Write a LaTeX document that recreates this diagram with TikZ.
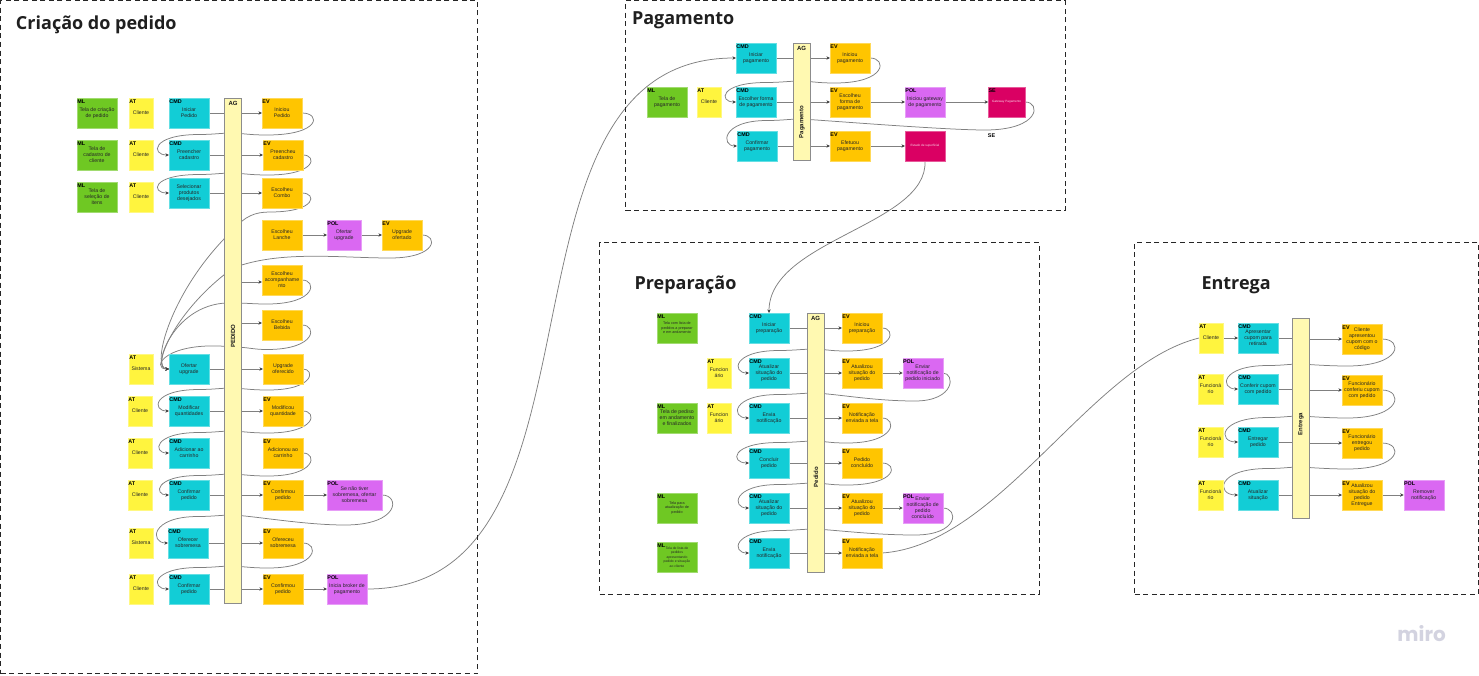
\documentclass[tikz,border=0pt]{standalone}
\usepackage{fontspec}
\setmainfont{Liberation Sans}
\newfontfamily\titlefont{Open Sans}
\newfontfamily\logofont{Poppins}
\usetikzlibrary{arrows.meta,calc,backgrounds}
\definecolor{mlc}{HTML}{6FC823}
\definecolor{atc}{HTML}{FFF43E}
\definecolor{cmc}{HTML}{12CDD6}
\definecolor{evc}{HTML}{FFC500}
\definecolor{plc}{HTML}{DA68F2}
\definecolor{sec}{HTML}{DA0063}
\definecolor{agc}{HTML}{FFF9B1}
\definecolor{lnc}{HTML}{808080}
\definecolor{tipc}{HTML}{404040}
\definecolor{logoc}{HTML}{D3D3E0}
\tikzset{
  note/.style={inner sep=0pt,outer sep=0pt,minimum height=30pt,align=center,
    text=black!85,font=\fontsize{5.2}{6}\selectfont},
  mlbox/.style={note,fill=mlc,draw=mlc!65!white,line width=.4pt},
  atbox/.style={note,fill=atc,draw=atc!65!white,line width=.4pt},
  cmdbox/.style={note,fill=cmc,draw=cmc!65!white,line width=.4pt},
  evbox/.style={note,fill=evc,draw=evc!65!white,line width=.4pt},
  polbox/.style={note,fill=plc,draw=plc!65!white,line width=.4pt},
  sebox/.style={note,fill=sec,draw=sec!65!white,line width=.4pt,text=white!85!sec,font=\fontsize{3.1}{4}\selectfont},
  tinya/.style={font=\fontsize{3.7}{4.4}\selectfont},
  tinyb/.style={font=\fontsize{3.4}{4.4}\selectfont},
  tagst/.style={anchor=north west,inner sep=.4pt,outer sep=0pt,yshift=-.9pt,text=black,font=\fontsize{5.4}{6}\selectfont\bfseries},
  agbar/.style={inner sep=0pt,outer sep=0pt,fill=agc,draw=black!45,line width=.7pt},
  agtext/.style={inner sep=0pt,outer sep=0pt,font=\fontsize{6}{7}\selectfont\bfseries,text=black!90},
  frm/.style={inner sep=0pt,outer sep=0pt,draw=black!85,line width=.9pt,dash pattern=on 5pt off 3.6pt},
  ttl/.style={inner sep=0pt,outer sep=0pt,anchor=base west,text=black!88,font=\titlefont\fontsize{18}{20}\selectfont\bfseries},
  cv/.style={draw=lnc,line width=.75pt},
  cva/.style={cv,-{Stealth[length=3.6pt,width=3.4pt,color=tipc]}},
}
\newcommand{\stk}[8][]{\node[#6,#1,minimum width=#5pt,label={[tagst,name=#2-t]north west:#7}] (#2) at (#3,#4) {#8};}
\newcommand{\stn}[7][]{\node[#6,#1,minimum width=#5pt] (#2) at (#3,#4) {#7};}
\newcommand{\agb}[5]{\node[agbar,minimum width=17pt,minimum height=#4pt] (#1) at (#2,#3) {};
  \node[agtext,anchor=north] (#1-t) at ($(#1.north)+(0,-3.2pt)$) {#5};}
\newcommand{\frmbox}[5]{\node[frm,anchor=north west,minimum width=#4pt,minimum height=#5pt] (#1) at (#2,#3) {};}
% left half of a loop, from the aggregate centre to the next command
\newcommand{\lft}[3]{.. controls ($(#2.center |- 0,#1)+(-12,0)$) and ($(#3.west |- 0,#1)+(45,1.5)$) .. ($(#3.west |- 0,#1)+(30,1.5)$)}
% loop: EV -> next CMD, running behind the aggregate: from, to, aggregate, right pull, y at aggregate, left pull
\newcommand{\bk}[6]{\draw[cva] (#1.east) .. controls +(#4,0) and ($(#1.east |- 0,#5)+(#4,2)$) .. ($(#1.east |- 0,#5)+(-35,2)$)
  .. controls ($(#1.east |- 0,#5)+(-50,2)$) and ($(#3.center |- 0,#5)+(15,1)$) .. (#3.center |- 0,#5)
  \lft{#5}{#3}{#2} .. controls ($(#2.west |- 0,#5)+(-#6,1.5)$) and +(-#6,0) .. (#2.west);}
% loop with a low point further left: from, to, aggregate, right pull, low x, low y, y at aggregate, left pull
\newcommand{\bkx}[8]{\draw[cva] (#1.east) .. controls +(#4,0) and ($(#1.east |- 0,#6)+(#4,0)$) .. (#5,#6)
  .. controls ($(#5,#6)+(-40,0)$) and ($(#3.center |- 0,#7)+(25,1.5)$) .. (#3.center |- 0,#7)
  \lft{#7}{#3}{#2} .. controls ($(#2.west |- 0,#7)+(-#8,1.5)$) and +(-#8,0) .. (#2.west);}
% command -> aggregate -> event
\newcommand{\thr}[3]{\draw[cv] (#1.east) -- (#1.east -| #2.west); \draw[cva] (#3.west -| #2.east) -- (#3.west);}
\begin{document}
\begin{tikzpicture}[x=1pt,y=-1pt]
\useasboundingbox (0,0) rectangle (1479,675);
\begin{pgfonlayer}{background}
\fill[white] (0,0) rectangle (1479,675);
\end{pgfonlayer}
% frames
\frmbox{fa}{0.5}{0.5}{477}{673}
\frmbox{fb}{625.6}{0.5}{439.4}{210}
\frmbox{fc}{599.5}{242.5}{439.5}{351.5}
\frmbox{fd}{1134.6}{242.5}{343.9}{351.5}
\node[ttl] (ta) at (16,29) {Criação do pedido};
\node[ttl] (tb) at (632,24.5) {Pagamento};
\node[ttl] (tc) at (634.5,289) {Preparação};
\node[ttl] (td) at (1201.5,289) {Entrega};
\node[inner sep=0pt,text=logoc,font=\logofont\fontsize{20}{22}\selectfont\bfseries,anchor=base east] (logo) at (1446,641) {miro};

% --- Criacao do pedido ---
\agb{agA}{233}{350.5}{505}{AG}
\node[agtext,rotate=90] (agAl) at (233,336) {PEDIDO};
\stk{m1}{97}{113}{40}{mlbox}{ML}{Tela de criação\\de pedido}
\stk{m2}{97}{155}{40}{mlbox}{ML}{Tela de\\cadastro de\\cliente}
\stk{m3}{97}{197}{40}{mlbox}{ML}{Tela de\\seleção de\\itens}
\stk{a1}{141}{113}{24}{atbox}{AT}{Cliente}
\stk{a2}{141}{155}{24}{atbox}{AT}{Cliente}
\stk{a3}{141}{197}{24}{atbox}{AT}{Cliente}
\stk{a4}{141}{369}{24}{atbox}{AT}{Sistema}
\stk{a5}{140}{411}{24}{atbox}{AT}{Cliente}
\stk{a6}{140}{453}{24}{atbox}{AT}{Cliente}
\stk{a7}{140}{495}{24}{atbox}{AT}{Cliente}
\stk{a8}{141}{543}{24}{atbox}{AT}{Sistema}
\stk{a9}{141}{589}{24}{atbox}{AT}{Cliente}
\stk{c1}{189}{113}{40}{cmdbox}{CMD}{Iniciar\\Pedido}
\stk{c2}{189}{155}{40}{cmdbox}{CMD}{Preencher\\cadastro}
\stn{c3}{189}{193}{40}{cmdbox}{Selecionar\\produtos\\desejados}
\stn{c4}{189}{369}{40}{cmdbox}{Ofertar\\upgrade}
\stk{c5}{189}{411}{40}{cmdbox}{CMD}{Modificar\\quantidades}
\stk{c6}{189}{453}{40}{cmdbox}{CMD}{Adicionar ao\\carrinho}
\stk{c7}{189}{495}{40}{cmdbox}{CMD}{Confirmar\\pedido}
\stk{c8}{188}{543}{40}{cmdbox}{CMD}{Oferecer\\sobremesa}
\stk{c9}{189}{589}{40}{cmdbox}{CMD}{Confirmar\\pedido}
\stk{e1}{282}{113}{40}{evbox}{EV}{Iniciou\\Pedido}
\stk{e2}{283}{155}{40}{evbox}{EV}{Preencheu\\cadastro}
\stn{e3}{282}{193}{40}{evbox}{Escolheu\\Combo}
\stn{e4}{282}{235}{40}{evbox}{Escolheu\\Lanche}
\stk{p4}{344}{235}{34}{polbox}{POL}{Ofertar\\upgrade}
\stk{e4b}{402}{235}{40}{evbox}{EV}{Upgrade\\ofertado}
\stn{e5}{282}{280}{40}{evbox}{Escolheu\\acompanhame\\nto}
\stn{e6}{282}{325}{40}{evbox}{Escolheu\\Bebida}
\stn{e7}{283}{369}{40}{evbox}{Upgrade\\oferecido}
\stk{e8}{283}{411}{40}{evbox}{EV}{Modificou\\quantidade}
\stk{e9}{283}{453}{40}{evbox}{EV}{Adicionou ao\\carrinho}
\stk{e10}{283}{495}{40}{evbox}{EV}{Confirmou\\pedido}
\stk{p10}{354.5}{495}{55}{polbox}{POL}{Se não tiver\\sobremesa, ofertar\\sobremesa}
\stk{e11}{283}{543}{40}{evbox}{EV}{Ofereceu\\sobremesa}
\stk{e12}{283}{589}{40}{evbox}{EV}{Confirmou\\pedido}
\stk{p12}{347}{589}{40}{polbox}{POL}{Inicia broker de\\pagamento}

% --- Pagamento ---
\agb{agB}{801.5}{102}{117}{AG}
\node[agtext,rotate=90] (agBl) at (802,122) {Pagamento};
\stk{m4}{667}{102}{40}{mlbox}{ML}{Tela de\\pagamento}
\stk{a10}{709}{102}{24}{atbox}{AT}{Cliente}
\stk{c10}{756}{58}{40}{cmdbox}{CMD}{Iniciar\\pagamento}
\stk{c11}{756}{102}{40}{cmdbox}{CMD}{Escolher forma\\de pagamento}
\stk{c12}{757}{146}{40}{cmdbox}{CMD}{Confirmar\\pagamento}
\stk{e13}{850}{58}{40}{evbox}{EV}{Iniciou\\pagamento}
\stk{e14}{850}{102}{40}{evbox}{EV}{Escolheu\\forma de\\pagamento}
\stk{e15}{850}{146}{40}{evbox}{EV}{Efetuou\\pagamento}
\stk{p14}{925}{102}{40}{polbox}{POL}{Iniciou gateway\\de pagamento}
\stk{s14}{1006.7}{102}{37}{sebox}{SE}{Gateway Pagamento}
\stn{s15}{925}{146}{40}{sebox}{Estado de superficial}
\node[tagst,anchor=center] (selbl) at (991.5,135) {SE};

% --- Preparacao ---
\agb{agC}{815.5}{442.5}{259}{AG}
\node[agtext,rotate=90] (agCl) at (816,477) {Pedido};
\stk[tinya]{m5}{677}{328}{40}{mlbox}{ML}{Tela com lista de\\pedidos a preparar\\e em andamento}
\stk{m6}{677}{418}{40}{mlbox}{ML}{Tela de pediso\\em andamento\\e finalizados}
\stk[tinya]{m7}{677}{508}{40}{mlbox}{ML}{Tela para\\atualização de\\pedido}
\stk[tinyb]{m8}{677}{557}{40}{mlbox}{ML}{Tela de lista de\\pedidos\\apresentando\\pedido e situação\\ao cliente}
\stk{a11}{719}{373}{24}{atbox}{AT}{Funcion\\ário}
\stk{a12}{719}{418}{24}{atbox}{AT}{Funcion\\ário}
\stk{c13}{769}{328}{40}{cmdbox}{CMD}{Iniciar\\preparação}
\stk{c14}{769}{373}{40}{cmdbox}{CMD}{Atualizar\\situação do\\pedido}
\stk{c15}{769}{418}{40}{cmdbox}{CMD}{Envia\\notificação}
\stk{c16}{769}{463}{40}{cmdbox}{CMD}{Concluir\\pedido}
\stk{c17}{769}{508}{40}{cmdbox}{CMD}{Atualizar\\situação do\\pedido}
\stk{c18}{769}{553}{40}{cmdbox}{CMD}{Envia\\notificação}
\stk{e16}{862}{328}{40}{evbox}{EV}{Iniciou\\preparação}
\stk{e17}{862}{373}{40}{evbox}{EV}{Atualizou\\situação do\\pedido}
\stk{e18}{862}{418}{40}{evbox}{EV}{Notificação\\enviada a tela}
\stk{e19}{862}{463}{40}{evbox}{EV}{Pedido\\concluído}
\stk{e20}{862}{508}{40}{evbox}{EV}{Atualizou\\situação do\\pedido}
\stk{e21}{862}{553}{40}{evbox}{EV}{Notificação\\enviada a tela}
\stk{p17}{922.7}{373}{40}{polbox}{POL}{Enviar\\notificação de\\pedido iniciado}
\stk{p20}{922.7}{508}{40}{polbox}{POL}{Enviar\\notificação de\\pedido\\concluído}

% --- Entrega ---
\node[agbar,minimum width=17pt,minimum height=200pt] (agD) at (1301,418) {};
\node[agtext,rotate=90] (agDl) at (1301,424) {Entrega};
\stk{a13}{1211}{338}{24}{atbox}{AT}{Cliente}
\stk{a14}{1210.5}{389}{25}{atbox}{AT}{Funcioná\\rio}
\stk{a15}{1210.5}{442}{25}{atbox}{AT}{Funcioná\\rio}
\stk{a16}{1210.5}{495}{25}{atbox}{AT}{Funcioná\\rio}
\stk{c19}{1258}{338}{40}{cmdbox}{CMD}{Apresentar\\cupom para\\retirada}
\stk{c20}{1258}{389}{40}{cmdbox}{CMD}{Conferir cupom\\com pedido}
\stk{c21}{1258}{442}{40}{cmdbox}{CMD}{Entregar\\pedido}
\stk{c22}{1258}{495}{40}{cmdbox}{CMD}{Atualizar\\situação}
\stk{e22}{1362}{339}{40}{evbox}{EV}{Cliente\\apresentou\\cupom com o\\código}
\stk{e23}{1362}{390}{40}{evbox}{EV}{Funcionário\\conferiu cupom\\com pedido}
\stk{e24}{1362}{443}{40}{evbox}{EV}{Funcionário\\entregou\\pedido}
\stk{e25}{1362}{495}{40}{evbox}{EV}{Atualizou\\situação do\\pedido\\Entregue}
\stk{p25}{1423.7}{495}{40}{polbox}{POL}{Remover\\notificação}

\begin{pgfonlayer}{background}
% through the aggregate: Criacao
\thr{c1}{agA}{e1} \thr{c2}{agA}{e2} \thr{c3}{agA}{e3}
\thr{c4}{agA}{e7} \thr{c5}{agA}{e8} \thr{c7}{agA}{e10} \thr{c8}{agA}{e11} \thr{c9}{agA}{e12}
\draw[cva] ([yshift=-2pt]e5.west -| agA.east) -- ([yshift=-2pt]e5.west);
\draw[cva] ([yshift=2pt]e6.west -| agA.east) -- ([yshift=2pt]e6.west);
\draw[cva] (e4) -- (p4); \draw[cva] (p4) -- (e4b);
\draw[cva] (e10) -- (p10); \draw[cva] (e12) -- (p12);
\bk{e1}{c2}{agA}{19}{133}{18}
\bk{e2}{c3}{agA}{14}{173}{18}
\bk{e7}{c5}{agA}{12}{388}{17}
\bk{e8}{c6}{agA}{14}{431}{16}
\bk{e9}{c7}{agA}{14}{474}{15}
\bkx{p10}{c8}{agA}{18}{345}{525}{515}{18}
\bk{e11}{c9}{agA}{16}{566}{18}
% four loops into "Ofertar upgrade"
\draw[cva] (e3.east) .. controls +(15,0) and (317,212) .. (270,212) .. controls (255,212) and (245,216) .. (agA.center |- 0,230) .. controls (170,290) and (150,369) .. (c4.west);
\draw[cva] (e4b.east) .. controls +(16,0) and (438,258) .. (390,258) .. controls (340,258) and (280,250) .. (agA.center |- 0,268) .. controls (175,310) and (150,369) .. (c4.west);
\draw[cva] (e5.east) .. controls +(15,0) and (317,304) .. (267,304) .. controls (252,304) and (248,303) .. (agA.center |- 0,303) .. controls (175,300) and (150,369) .. (c4.west);
\draw[cva] (e6.east) .. controls +(15,0) and (317,349.5) .. (267,349.5) .. controls (252,349.5) and (248,347) .. (agA.center |- 0,347) .. controls (165,340) and (150,369) .. (c4.west);
% to Pagamento
\draw[cva] (p12.east) .. controls (626,589) and (476,58) .. (c10.west);
% Pagamento
\thr{c10}{agB}{e13} \thr{c11}{agB}{e14} \thr{c12}{agB}{e15}
\draw[cva] (e14) -- (p14); \draw[cva] (p14) -- (s14); \draw[cva] (e15) -- (s15);
\bk{e13}{c11}{agB}{17}{81}{17}
\bkx{s14}{c12}{agB}{15.6}{985}{130}{119}{16}
% to Preparacao
\draw[cva] (s15.south) .. controls (928,225) and (769,240) .. (c13.north);
% Preparacao
\thr{c13}{agC}{e16} \thr{c14}{agC}{e17} \thr{c15}{agC}{e18} \thr{c16}{agC}{e19} \thr{c17}{agC}{e20} \thr{c18}{agC}{e21}
\draw[cva] (e17) -- (p17); \draw[cva] (e20) -- (p20);
\bk{e16}{c14}{agC}{14}{349}{17}
\bkx{p17}{c15}{agC}{12.7}{915}{401}{393}{18}
\bk{e18}{c16}{agC}{15}{441}{19}
\bk{e19}{c17}{agC}{16}{483}{17}
\bkx{p20}{c18}{agC}{16.3}{915}{535}{529}{17}
% to Entrega
\draw[cv] (e21.east) .. controls (1000,545) and (1090,365) .. (a13.west);
% Entrega
\draw[cva] (a13) -- (c19);
\thr{c19}{agD}{e22} \thr{c20}{agD}{e23} \thr{c21}{agD}{e24} \thr{c22}{agD}{e25}
\draw[cva] (e25) -- (p25);
\bk{e22}{c20}{agD}{21}{364}{18}
\bk{e23}{c21}{agD}{21}{416}{20}
\bk{e24}{c22}{agD}{21}{467}{22}
\end{pgfonlayer}
\end{tikzpicture}
\end{document}
